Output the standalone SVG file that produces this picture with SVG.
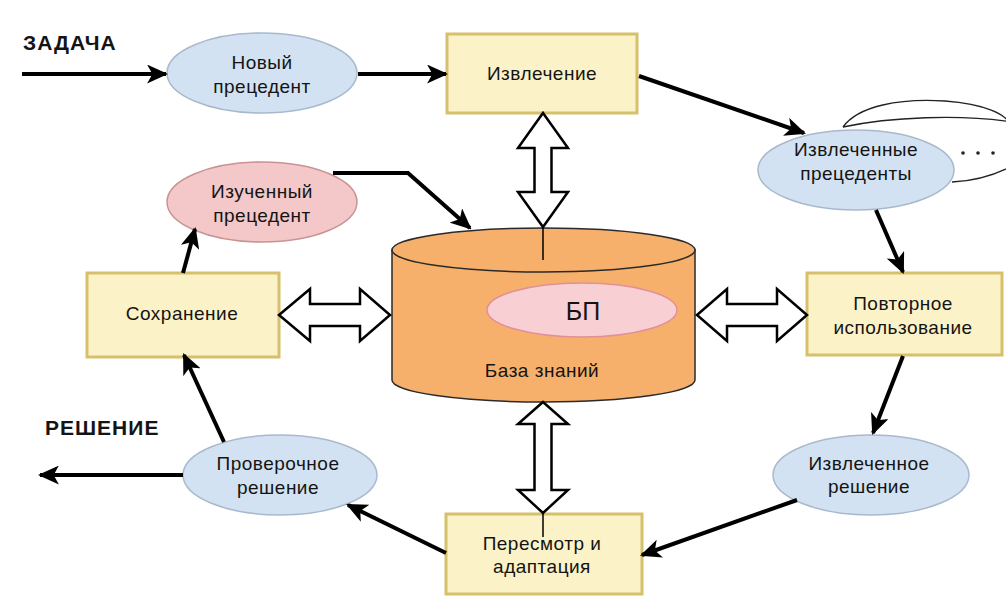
<svg xmlns="http://www.w3.org/2000/svg" width="1006" height="612" viewBox="0 0 1006 612">
<style>
text{font-family:"Liberation Sans",Arial,sans-serif;font-size:19px;letter-spacing:0.5px;fill:#141414;text-anchor:middle}
.title{font-weight:bold;font-size:21px;letter-spacing:1px;text-anchor:start}
.box{fill:#fcf2c8;stroke:#d6c06c;stroke-width:3}
.blue{fill:#d2e2f2;stroke:#a9b9cc;stroke-width:1.5}
.pink{fill:#f4c8c8;stroke:#c99393;stroke-width:1.5}
.arrow{fill:none;stroke:#000;stroke-width:4;marker-end:url(#ah)}
.block{fill:#fff;stroke:#000;stroke-width:2.5;stroke-linejoin:miter}
.thin{fill:none;stroke:#000;stroke-width:1.5}
</style>
<defs>
<marker id="ah" viewBox="0 0 20 18" refX="18" refY="9" markerWidth="21" markerHeight="19" markerUnits="userSpaceOnUse" orient="auto">
<path d="M0,0 L20,9 L0,18 L5,9 z" fill="#000"/>
</marker>
</defs>
<rect width="1006" height="612" fill="#fff"/>
<text class="title" x="23" y="50">ЗАДАЧА</text>
<text class="title" x="45" y="435">РЕШЕНИЕ</text>
<g id="node-kb">
<path d="M392 250 L392 380 A151.5 22 0 0 0 695 380 L695 250 Z" fill="#f6b06b" stroke="#2a2a2a" stroke-width="1.5"/>
<ellipse cx="543.5" cy="250" rx="151.5" ry="22" fill="#f6b06b" stroke="#2a2a2a" stroke-width="1.5"/>
<ellipse cx="582" cy="310" rx="95" ry="27" fill="#f8d0d4" stroke="#e09098" stroke-width="1.5"/>
<text x="583" y="320" style="font-size:25px;letter-spacing:0">БП</text>
<text x="542" y="377">База знаний</text>
</g>
<g id="node-new">
<ellipse class="blue" cx="262" cy="73" rx="95" ry="40"/>
<text x="262" y="69">Новый</text>
<text x="262" y="93">прецедент</text>
</g>
<g id="node-retrieve">
<rect class="box" x="447" y="34" width="190" height="79"/>
<text x="542" y="80">Извлечение</text>
</g>
<g id="node-retrieved">
<path d="M843 127 C858 106 900 98 945 101 C985 104 1006 114 1012 126" fill="none" stroke="#222" stroke-width="1.3"/>
<path d="M843 127 C890 117 960 114 1012 122" fill="none" stroke="#222" stroke-width="1.3"/>
<path d="M952 182 C975 181 995 175 1012 166" fill="none" stroke="#222" stroke-width="1.3"/>
<circle cx="963" cy="153" r="1.8" fill="#222"/>
<circle cx="978" cy="153" r="1.8" fill="#222"/>
<circle cx="993" cy="153" r="1.8" fill="#222"/>
<ellipse class="blue" cx="856" cy="170" rx="98" ry="40"/>
<text x="856" y="156">Извлеченные</text>
<text x="856" y="180">прецеденты</text>
</g>
<g id="node-reuse">
<rect class="box" x="807" y="273" width="195" height="82"/>
<text x="903" y="310">Повторное</text>
<text x="903" y="334">использование</text>
</g>
<g id="node-solution">
<ellipse class="blue" cx="871" cy="475" rx="98" ry="40"/>
<text x="869" y="470">Извлеченное</text>
<text x="869" y="493">решение</text>
</g>
<g id="node-revise">
<rect class="box" x="446" y="514" width="196" height="80"/>
<text x="542" y="550">Пересмотр и</text>
<text x="542" y="573">адаптация</text>
</g>
<g id="node-check">
<ellipse class="blue" cx="280" cy="475" rx="97" ry="40"/>
<text x="278" y="470">Проверочное</text>
<text x="278" y="494">решение</text>
</g>
<g id="node-retain">
<rect class="box" x="87" y="273" width="192" height="84"/>
<text x="182" y="320">Сохранение</text>
</g>
<g id="node-learned">
<ellipse class="pink" cx="262" cy="202" rx="95" ry="40"/>
<text x="262" y="198">Изученный</text>
<text x="262" y="222">прецедент</text>
</g>
<g id="connectors">
<path class="arrow" d="M22 74 L166 74"/>
<path class="arrow" d="M358 74 L446 74"/>
<path class="arrow" d="M639 76 L804 133"/>
<path class="arrow" d="M876 210 L903 272"/>
<path class="arrow" d="M903 356 L873 433"/>
<path class="arrow" d="M797 500 L642 555"/>
<path class="arrow" d="M446 553 L348 505"/>
<path class="arrow" d="M183 475 L40 475"/>
<path class="arrow" d="M224 442 L184 355"/>
<path class="arrow" d="M183 273 L195 229"/>
<path class="arrow" d="M333 173 L408 173 L470 228"/>
<polygon class="block" points="543,113 568,148 551.5,148 551.5,192 568,192 543,227 518,192 534.5,192 534.5,148 518,148"/>
<line class="thin" x1="543" y1="227" x2="543" y2="260"/>
<polygon class="block" points="279,315 310,289 310,304 360,304 360,289 390,315 360,341 360,326 310,326 310,341"/>
<polygon class="block" points="697,315 727,289 727,304 777,304 777,289 807,315 777,341 777,326 727,326 727,341"/>
<polygon class="block" points="543,402 568,424 551.5,424 551.5,490 568,490 543,513 518,490 534.5,490 534.5,424 518,424"/>
<line class="thin" x1="543" y1="513" x2="543" y2="537"/>
</g>
</svg>
